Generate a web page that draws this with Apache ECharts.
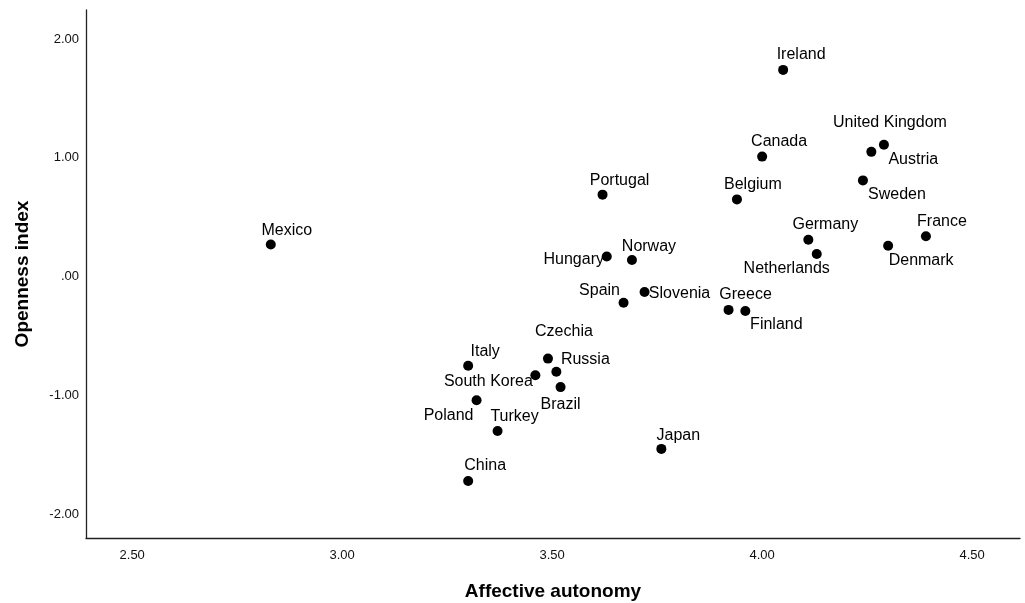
<!DOCTYPE html>
<html>
<head>
<meta charset="utf-8">
<script src="https://cdn.jsdelivr.net/npm/echarts@6/dist/echarts.min.js"></script>
<style>
  html, body { margin: 0; padding: 0; background: #fff; }
  #chart { width: 1025px; height: 603px; }
</style>
</head>
<body>
<div id="chart"></div>
<script>
// Country names and their scores
const countries = ['Mexico', 'Ireland', 'Canada', 'Belgium', 'United Kingdom', 'Austria', 'Sweden',
  'Germany', 'Netherlands', 'France', 'Denmark', 'Portugal', 'Hungary', 'Norway', 'Spain',
  'Slovenia', 'Greece', 'Finland', 'Czechia', 'Russia', 'South Korea', 'Brazil', 'Italy',
  'Poland', 'Turkey', 'China', 'Japan'];
const affectiveAutonomy = [2.83, 4.05, 4.00, 3.94, 4.29, 4.26, 4.24,
  4.11, 4.13, 4.39, 4.30, 3.62, 3.63, 3.69, 3.67,
  3.72, 3.92, 3.96, 3.49, 3.51, 3.46, 3.52, 3.30,
  3.32, 3.37, 3.30, 3.76];
const opennessIndex = [0.27, 1.74, 1.01, 0.65, 1.11, 1.05, 0.81,
  0.31, 0.19, 0.34, 0.26, 0.69, 0.17, 0.14, -0.22,
  -0.13, -0.28, -0.29, -0.69, -0.80, -0.83, -0.93, -0.75,
  -1.04, -1.30, -1.72, -1.45];
const xTicks = [2.5, 3.0, 3.5, 4.0, 4.5];
const yTicks = [-2, -1, 0, 1, 2];

// Where each country's name sits relative to its dot (label centre, px)
const labelOffsets = {
  'Mexico': [16, -14], 'Ireland': [18, -15], 'Canada': [17, -15], 'Belgium': [16, -15],
  'United Kingdom': [6, -22], 'Austria': [42, 8], 'Sweden': [34, 14], 'Germany': [17, -15],
  'Netherlands': [-30, 15], 'France': [16, -15], 'Denmark': [33, 15], 'Portugal': [17, -14],
  'Hungary': [-33, 3], 'Norway': [17, -13], 'Spain': [-24, -12], 'Slovenia': [35, 2],
  'Greece': [17, -15], 'Finland': [31, 14], 'Czechia': [16, -27], 'Russia': [29, -12],
  'South Korea': [-47, 6], 'Brazil': [0, 17], 'Italy': [17, -14], 'Poland': [-28, 15],
  'Turkey': [17, -14], 'China': [17, -15], 'Japan': [17, -13]
};

const FONT = '"Liberation Sans", Arial, Helvetica, sans-serif';

const points = countries.map((name, i) => ({
  name: name,
  value: [affectiveAutonomy[i], opennessIndex[i]]
}));

const fmt = v => {
  const s = Math.abs(v).toFixed(2).replace(/^0/, '');
  return (v < 0 ? '-' : '') + s;
};

const chart = echarts.init(document.getElementById('chart'), null, { renderer: 'canvas' });
chart.setOption({
  animation: false,
  backgroundColor: '#ffffff',
  grid: { left: 86, right: 5, top: 10, bottom: 65, containLabel: false, outerBoundsMode: 'none' },
  xAxis: {
    type: 'value',
    min: 2.39,
    max: 4.614,
    name: 'Affective autonomy',
    nameLocation: 'middle',
    nameGap: 44,
    nameTextStyle: { fontFamily: FONT, fontWeight: 'bold', fontSize: 19, color: '#000' },
    axisLine: { show: true, onZero: false, lineStyle: { color: '#222', width: 1.3 } },
    axisTick: { show: false },
    splitLine: { show: false },
    axisLabel: {
      customValues: xTicks,
      formatter: fmt,
      fontFamily: FONT, fontSize: 13, color: '#111', margin: 11
    }
  },
  yAxis: {
    type: 'value',
    min: -2.2,
    max: 2.244,
    name: 'Openness index',
    nameLocation: 'middle',
    nameGap: 54,
    nameRotate: 90,
    nameTextStyle: { fontFamily: FONT, fontWeight: 'bold', fontSize: 19, color: '#000' },
    axisLine: { show: true, onZero: false, lineStyle: { color: '#222', width: 1.3 } },
    axisTick: { show: false },
    splitLine: { show: false },
    axisLabel: {
      customValues: yTicks,
      formatter: fmt,
      fontFamily: FONT, fontSize: 13, color: '#111', margin: 7
    }
  },
  series: [{
    type: 'scatter',
    symbol: 'circle',
    symbolSize: 10,
    itemStyle: { color: '#000', opacity: 1 },
    label: {
      show: true,
      position: 'inside',
      formatter: p => p.name,
      fontFamily: FONT,
      fontSize: 16,
      color: '#000'
    },
    labelLayout: function (params) {
      const off = labelOffsets[countries[params.dataIndex]] || [0, -16];
      return { dx: off[0], dy: off[1], hideOverlap: false };
    },
    data: points
  }]
});
</script>
</body>
</html>
